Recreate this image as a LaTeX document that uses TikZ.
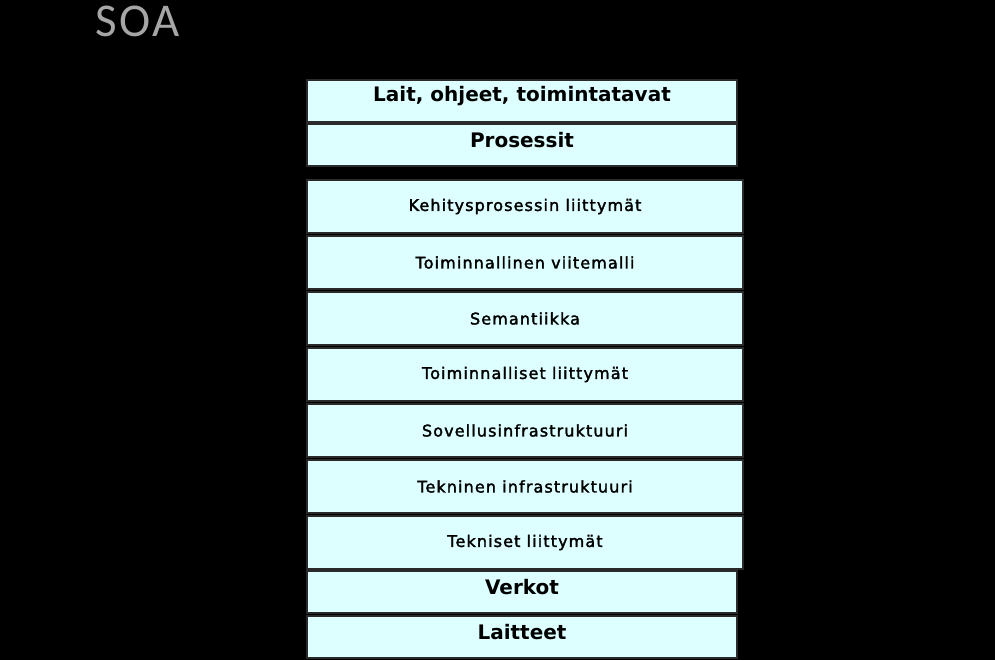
\documentclass[tikz,border=0pt]{standalone}
\usepackage{fontspec}
\setmainfont{DejaVu Sans}
\newfontfamily\titlefont[LetterSpace=5]{Carlito}
\newfontfamily\midfont[LetterSpace=7,FakeBold=2]{DejaVu Sans}
\definecolor{boxfill}{HTML}{DDFFFF}
\definecolor{boxline}{HTML}{2A2A2A}
\definecolor{titlegray}{HTML}{A6A6A6}
\begin{document}
\begin{tikzpicture}[x=1pt,y=-1pt,
  layer/.style={draw=boxline, line width=1.2pt, fill=boxfill, inner sep=0pt, outer sep=0pt},
  bigtext/.style={font=\fontsize{20}{22}\selectfont\bfseries, text=black},
  smalltext/.style={font=\midfont\fontsize{16}{18}\selectfont, text=black}]
\fill[black] (0,0) rectangle (995,660);
\useasboundingbox (0,0) rectangle (995,660);
\node[anchor=west, text=titlegray, font=\titlefont\fontsize{47}{50}\selectfont, inner sep=0pt] (title) at (95,21) {SOA};
% top group
\node[layer, minimum width=430, minimum height=42] (lait) at (522,101) {};
\node[bigtext] at ([yshift=5pt]lait.center) {Lait, ohjeet, toimintatavat};
\node[layer, minimum width=430, minimum height=42] (pros) at (522,145) {};
\node[bigtext] at ([yshift=5pt]pros.center) {Prosessit};
% middle group
\foreach \n/\t [count=\i from 0] in {keh/Kehitysprosessin liittymät,
  viite/Toiminnallinen viitemalli, sem/Semantiikka, toim/Toiminnalliset liittymät,
  sov/Sovellusinfrastruktuuri, tek/Tekninen infrastruktuuri, tekl/Tekniset liittymät}{
  \node[layer, minimum width=436, minimum height=53, smalltext] (\n) at (525,206.5+56*\i) {\t};
}
% bottom group
\node[layer, minimum width=430, minimum height=42] (verk) at (522,592) {};
\node[bigtext] at ([yshift=5pt]verk.center) {Verkot};
\node[layer, minimum width=430, minimum height=42] (lai) at (522,637) {};
\node[bigtext] at ([yshift=5pt]lai.center) {Laitteet};
\end{tikzpicture}
\end{document}
